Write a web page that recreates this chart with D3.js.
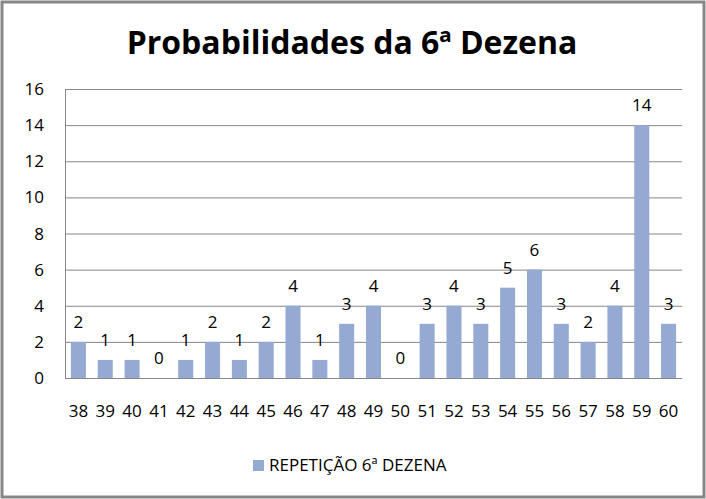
<!DOCTYPE html>
<meta charset="utf-8">
<script src="https://d3js.org/d3.v7.min.js"></script>
<style>
body { margin: 0; background: #fff; }
text { font-family: "Open Sans", "DejaVu Sans", sans-serif; }
</style>
<div id="chart"></div>
<script>
// chart data
var categories = ["38","39","40","41","42","43","44","45","46","47","48","49","50","51","52","53","54","55","56","57","58","59","60"];
var values = [2,1,1,0,1,2,1,2,4,1,3,4,0,3,4,3,5,6,3,2,4,14,3];
var yTicks = [0,2,4,6,8,10,12,14,16];
var seriesName = "REPETIÇÃO 6ª DEZENA";
var title = "Probabilidades da 6ª Dezena";

var width = 706, height = 499;
var margin = {left: 65, right: 24, top: 89, bottom: 121};

var svg = d3.select("#chart").append("svg")
  .attr("width", width)
  .attr("height", height);

// outer border
svg.append("rect")
  .attr("x", 2).attr("y", 2)
  .attr("width", width - 4).attr("height", height - 4)
  .attr("fill", "#fff")
  .attr("stroke", "#878787")
  .attr("stroke-width", 3);

var x = d3.scaleBand()
  .domain(categories)
  .range([margin.left, width - margin.right])
  .paddingInner(0.44)
  .paddingOuter(0.22);

var y = d3.scaleLinear()
  .domain([0, 16])
  .range([height - margin.bottom, margin.top]);

// gridlines
svg.append("g")
  .selectAll("line")
  .data(yTicks)
  .enter().append("line")
    .attr("x1", margin.left)
    .attr("x2", width - margin.right)
    .attr("y1", function(d){ return y(d) + 0.5; })
    .attr("y2", function(d){ return y(d) + 0.5; })
    .attr("stroke", "#868686")
    .attr("stroke-width", 1);

// y axis line
svg.append("line")
  .attr("x1", margin.left + 0.5).attr("x2", margin.left + 0.5)
  .attr("y1", y(16)).attr("y2", y(0))
  .attr("stroke", "#868686");

// y tick labels
svg.append("g")
  .selectAll("text")
  .data(yTicks)
  .enter().append("text")
    .attr("x", 44)
    .attr("y", function(d){ return y(d); })
    .attr("dy", "0.36em")
    .attr("text-anchor", "end")
    .attr("font-size", 17)
    .attr("fill", "#000")
    .text(function(d){ return d; });

// bars
svg.append("g")
  .selectAll("rect")
  .data(values)
  .enter().append("rect")
    .attr("x", function(d, i){ return x(categories[i]); })
    .attr("y", function(d){ return y(d); })
    .attr("width", x.bandwidth())
    .attr("height", function(d){ return y(0) - y(d); })
    .attr("fill", "#94aad2");

// value labels
svg.append("g")
  .selectAll("text")
  .data(values)
  .enter().append("text")
    .attr("x", function(d, i){ return x(categories[i]) + x.bandwidth() / 2; })
    .attr("y", function(d){ return y(d) - 14; })
    .attr("text-anchor", "middle")
    .attr("font-size", 17)
    .attr("fill", "#000")
    .text(function(d){ return d; });

// x labels
svg.append("g")
  .selectAll("text")
  .data(categories)
  .enter().append("text")
    .attr("x", function(d){ return x(d) + x.bandwidth() / 2; })
    .attr("y", 417)
    .attr("text-anchor", "middle")
    .attr("font-size", 17)
    .attr("fill", "#000")
    .text(function(d){ return d; });

// title
svg.append("text")
  .attr("x", 352)
  .attr("y", 54)
  .attr("text-anchor", "middle")
  .attr("font-size", 32)
  .attr("font-weight", "bold")
  .attr("fill", "#000")
  .text(title);

// legend
svg.append("rect")
  .attr("x", 253).attr("y", 460)
  .attr("width", 11).attr("height", 11)
  .attr("fill", "#94aad2");
svg.append("text")
  .attr("x", 269)
  .attr("y", 471)
  .attr("font-size", 17)
  .attr("fill", "#000")
  .text(seriesName);
</script>
